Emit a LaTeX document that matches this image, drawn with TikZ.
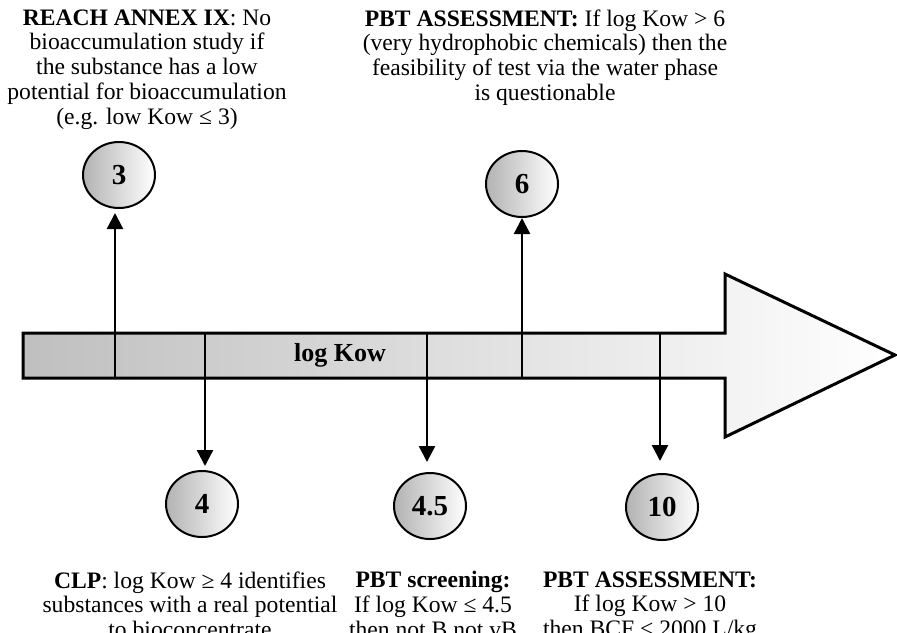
\documentclass[tikz,border=0pt]{standalone}
\usepackage{fontspec}
\setmainfont{Liberation Serif}
\usepackage{tikz}
\usetikzlibrary{arrows.meta,shapes.geometric}

\begin{document}
\begin{tikzpicture}[x=0.5pt,y=-0.5pt,
  note/.style={align=center,inner sep=0pt,font=\fontsize{11.8}{12.45}\selectfont},
  level/.style={ellipse,draw,line width=1pt,minimum width=36pt,minimum height=33pt,
    inner sep=0pt,left color=gray!60,right color=white,
    font=\fontsize{14.5}{16}\selectfont\bfseries},
  link/.style={line width=1.2pt,-{Triangle[length=8pt,width=8pt]}},
  tick/.style={line width=1.2pt}]
\useasboundingbox (0,0) rectangle (897,632);
\clip (0,0) rectangle (897,632);
% the log Kow axis
\draw[line width=1.5pt,left color=gray!50,right color=white]
  (23,333) -- (725,333) -- (725,274) -- (895,355) -- (725,437) -- (725,378) -- (23,378) -- cycle;
\node[font=\fontsize{13}{15}\selectfont\bfseries] (axis) at (340,355) {log Kow};
\foreach \name/\x in {k3/115,k4/205,k45/427,k6/522,k10/660} {
  \coordinate (\name t) at (\x,333);
  \coordinate (\name b) at (\x,378);
  \draw[tick] (\name t) -- (\name b);
}
% the values
\node[level] (c3) at (119,175) {3};
\node[level] (c6) at (522,184) {6};
\node[level] (c4) at (202,504) {4};
\node[level] (c45) at (430,506) {4.5};
\node[level] (c10) at (662,507) {10};
\draw[link,shorten >=2pt] (k3t) -- (c3.south -| k3t);
\draw[link] (k6t) -- (c6.south -| k6t);
\draw[link,shorten >=2pt] (k4b) -- (c4.north -| k4b);
\draw[link,shorten >=5pt] (k45b) -- (c45.north -| k45b);
\draw[link,shorten >=6pt] (k10b) -- (c10.north -| k10b);
% the texts
\node[note,anchor=north] (reach) at (147,9) {\textbf{REACH ANNEX IX}: No\\
  bioaccumulation study if\\ the substance has a low\\
  potential for bioaccumulation\\ (e.g. low Kow ≤ 3)};
\node[note,anchor=north] (pbt6) at (545,9) {\textbf{PBT ASSESSMENT:} If log Kow > 6\\
  (very hydrophobic chemicals) then the\\ feasibility of test via the water phase\\
  is questionable};
\node[note,anchor=north] (clp) at (190,571) {\textbf{CLP}: log Kow ≥ 4 identifies\\
  substances with a real potential\\ to bioconcentrate};
\node[note,anchor=north] (screen) at (433,571) {\textbf{PBT screening:}\\
  If log Kow ≤ 4.5\\ then not B not vB};
\node[note,anchor=north] (pbt10) at (650,571) {\textbf{PBT ASSESSMENT:}\\
  If log Kow > 10\\ then BCF < 2000 L/kg};
\end{tikzpicture}
\end{document}
